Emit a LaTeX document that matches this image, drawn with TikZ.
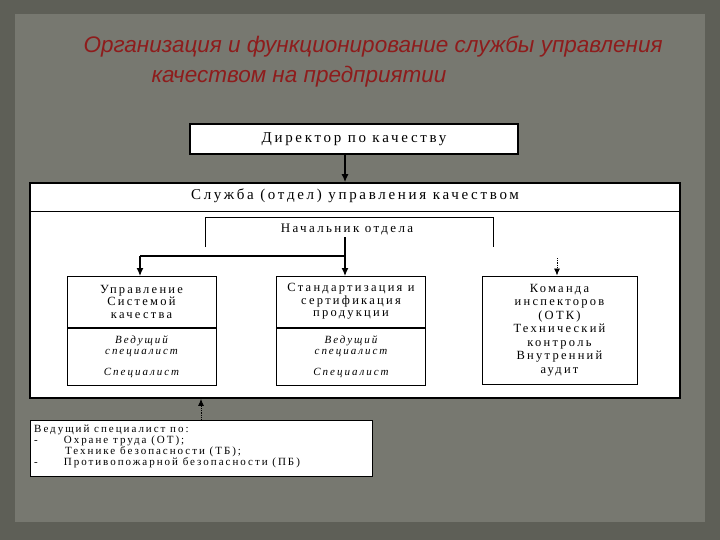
\documentclass[tikz,border=0pt]{standalone}
\usepackage{fontspec}
\setmainfont{Liberation Serif}
\newfontfamily\titlefont{Liberation Sans}
\newfontfamily\widefont[LetterSpace=18]{Liberation Serif}
\usetikzlibrary{positioning,arrows.meta}
\definecolor{bgdark}{HTML}{5E5F57}
\definecolor{bgpanel}{HTML}{777870}
\definecolor{titlered}{HTML}{8E1C1C}
\begin{document}
\begin{tikzpicture}
[
x=1pt, y=-1pt,
box/.style={draw, line width=1.5pt, fill=white},
unit/.style={draw, line width=1pt, fill=white, minimum width=149pt, minimum height=51pt, inner sep=1pt, align=center, font=\widefont\fontsize{12.5}{12.5}\selectfont},
sub/.style={draw, line width=1pt, fill=white, minimum width=149pt, minimum height=57pt, inner sep=1pt, align=center, font=\widefont\fontsize{11}{11}\itshape},
link/.style={line width=1.2pt, -{Latex[length=8pt,width=7pt]}},
dots/.style={line width=0.8pt, densely dotted, -{Latex[length=7pt,width=6pt]}}
]
% background
\fill[bgdark] (0,0) rectangle (720,540);
\fill[bgpanel] (15,14) rectangle (705,522);
\useasboundingbox (0,0) rectangle (720,540);
% title
\node[anchor=west, text=titlered, font=\titlefont\itshape\fontsize{22.5}{22.5}\selectfont] (title1) at (80,47) {Организация и функционирование службы управления};
\node[anchor=west, text=titlered, font=\titlefont\itshape\fontsize{22.5}{22.5}\selectfont] (title2) at (148,77) {качеством на предприятии};
% director
\node[box, minimum width=328pt, minimum height=30pt, font=\widefont\fontsize{15}{15}\selectfont] (dir) at (354,139) {Директор по качеству};
% service
\node[box, line width=1.8pt, minimum width=650pt, minimum height=215pt] (serv) at (355,290.5) {};
\draw[line width=1pt] (30,212) -- (680,212);
\node[font=\widefont\fontsize{15}{15}\selectfont] (servt) at (355,196) {Служба (отдел) управления качеством};
\draw[link] (dir.south -| 345,0) -- (serv.north -| 345,0);
% head
\node[font=\widefont\fontsize{13}{13}\selectfont] (head) at (347,230) {Начальник отдела};
\draw[line width=1pt] (205,247) -- (205,218) -- (493,218) -- (493,247);
% units
\node[unit] (qms) at (141.5,301.5) {Управление\\Системой\\качества};
\node[sub, below=0pt of qms] (qmsb) {Ведущий\\специалист\\[10pt]Специалист};
\node[unit] (std) at (351,301.5) {Стандартизация и\\сертификация\\продукции};
\node[sub, below=0pt of std] (stdb) {Ведущий\\специалист\\[10pt]Специалист};
\node[draw, line width=1pt, fill=white, minimum width=155pt, minimum height=108pt, inner sep=1pt, align=center, font=\widefont\fontsize{12.5}{13.5}\selectfont] (otk) at (559.5,330) {Команда\\инспекторов\\(ОТК)\\Технический\\контроль\\Внутренний\\аудит};
\coordinate (split) at (345,256);
\draw[line width=1.2pt] (345,237) -- (split) -| (140,256);
\draw[link] (140,256) -- (140,276);
\draw[link] (split) -- (345,276);
\draw[dots] (557,258) -- (otk.north -| 557,0);
% safety
\node[draw, line width=1pt, fill=white, minimum width=342pt, minimum height=56pt] (safe) at (201,448) {};
\node[anchor=north west, align=left, inner sep=0pt, font=\widefont\fontsize{11}{11}\selectfont] (safet) at (34,425) {Ведущий специалист по:\\
-\hspace{26pt}Охране труда (ОТ);\\
\hspace{31pt}Технике безопасности (ТБ);\\
-\hspace{26pt}Противопожарной безопасности (ПБ)};
\draw[dots] (safe.north) -- (serv.south -| safe.north);
\end{tikzpicture}
\end{document}
